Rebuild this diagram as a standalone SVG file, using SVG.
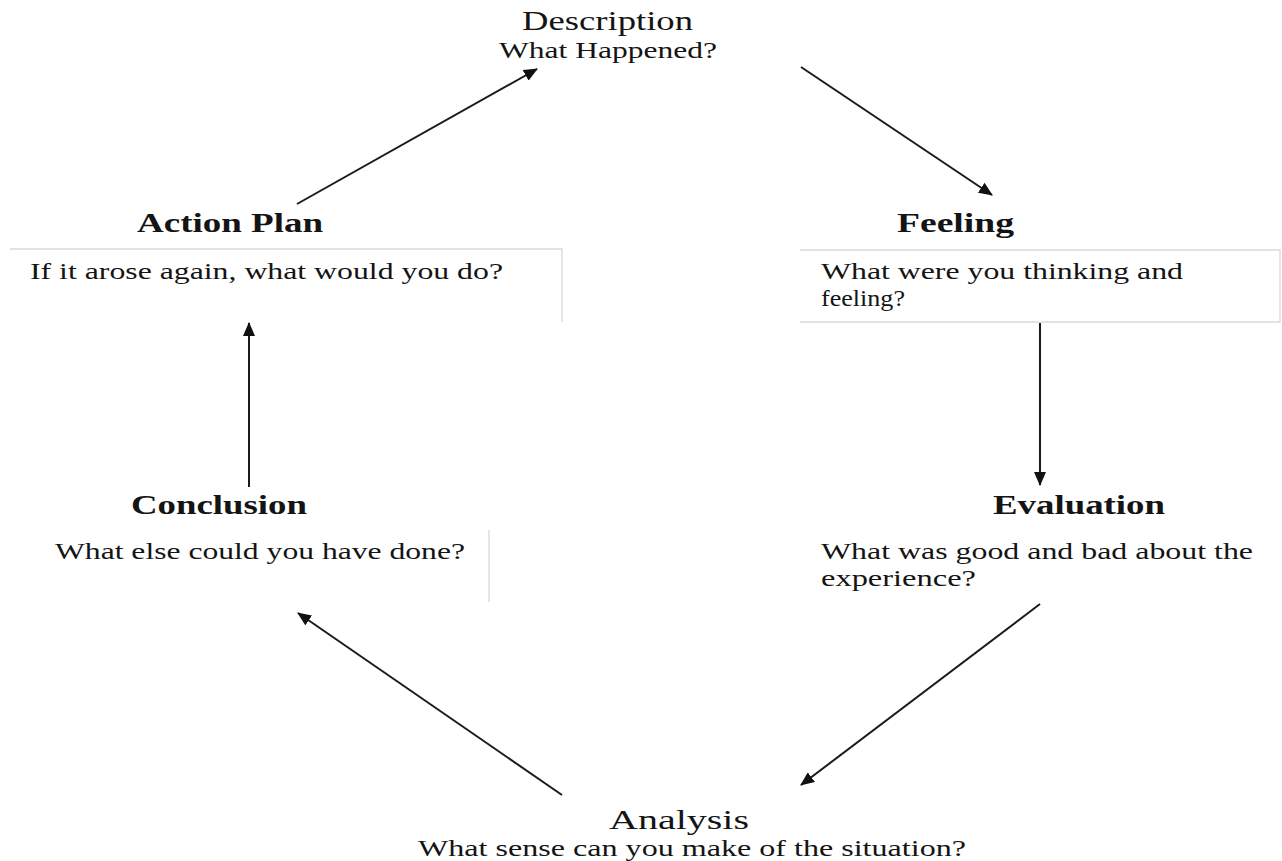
<svg xmlns="http://www.w3.org/2000/svg" width="1282" height="861" viewBox="0 0 1282 861">
<style>
text{font-family:"Liberation Serif","Times New Roman",serif;fill:#141414}
.h{font-size:27px;font-weight:bold}
.t{font-size:28px}
.b{font-size:23px}
.box{stroke:#d9d9d9;stroke-width:1.3;fill:none}
.c{stroke:#1a1a1a;stroke-width:2;fill:none;marker-end:url(#ah)}
</style>
<defs>
<marker id="ah" viewBox="0 0 14 12" refX="13" refY="6" markerWidth="14" markerHeight="12" markerUnits="userSpaceOnUse" orient="auto">
<path d="M0,0 L14,6 L0,12 Z" fill="#111"/>
</marker>
</defs>
<rect width="1282" height="861" fill="#fff"/>
<g id="description">
<text class="t" x="522" y="30" textLength="171" lengthAdjust="spacingAndGlyphs">Description</text>
<text class="b" x="499" y="58" textLength="218" lengthAdjust="spacingAndGlyphs" style="font-size:24px">What Happened?</text>
</g>
<g id="feeling">
<path class="box" d="M800,250 H1280 V322 H800"/>
<text class="h" x="897" y="232" textLength="117" lengthAdjust="spacingAndGlyphs">Feeling</text>
<text class="b" x="821" y="279" textLength="362" lengthAdjust="spacingAndGlyphs">What were you thinking and</text>
<text class="b" x="821" y="306" textLength="84" lengthAdjust="spacingAndGlyphs">feeling?</text>
</g>
<g id="evaluation">
<text class="h" x="993" y="514" textLength="172" lengthAdjust="spacingAndGlyphs">Evaluation</text>
<text class="b" x="821" y="559" textLength="432" lengthAdjust="spacingAndGlyphs">What was good and bad about the</text>
<text class="b" x="821" y="586" textLength="155" lengthAdjust="spacingAndGlyphs">experience?</text>
</g>
<g id="analysis">
<text class="t" x="609" y="829" textLength="140" lengthAdjust="spacingAndGlyphs" style="font-size:27px">Analysis</text>
<text class="b" x="418" y="856" textLength="548" lengthAdjust="spacingAndGlyphs">What sense can you make of the situation?</text>
</g>
<g id="conclusion">
<path class="box" d="M489,530 V602"/>
<text class="h" x="131" y="514" textLength="176" lengthAdjust="spacingAndGlyphs">Conclusion</text>
<text class="b" x="55" y="559" textLength="410" lengthAdjust="spacingAndGlyphs">What else could you have done?</text>
</g>
<g id="action-plan">
<path class="box" d="M10,249 H562 V322"/>
<text class="h" x="137" y="232" textLength="186" lengthAdjust="spacingAndGlyphs">Action Plan</text>
<text class="b" x="30" y="279" textLength="473" lengthAdjust="spacingAndGlyphs">If it arose again, what would you do?</text>
</g>
<g id="connectors">
<path class="c" d="M297,204 L537,69"/>
<path class="c" d="M801,67 L992,195"/>
<path class="c" d="M1040,323 L1040,485"/>
<path class="c" d="M1040,604 L801,785"/>
<path class="c" d="M562,795 L298,613"/>
<path class="c" d="M249,487 L249,323"/>
</g>
</svg>
